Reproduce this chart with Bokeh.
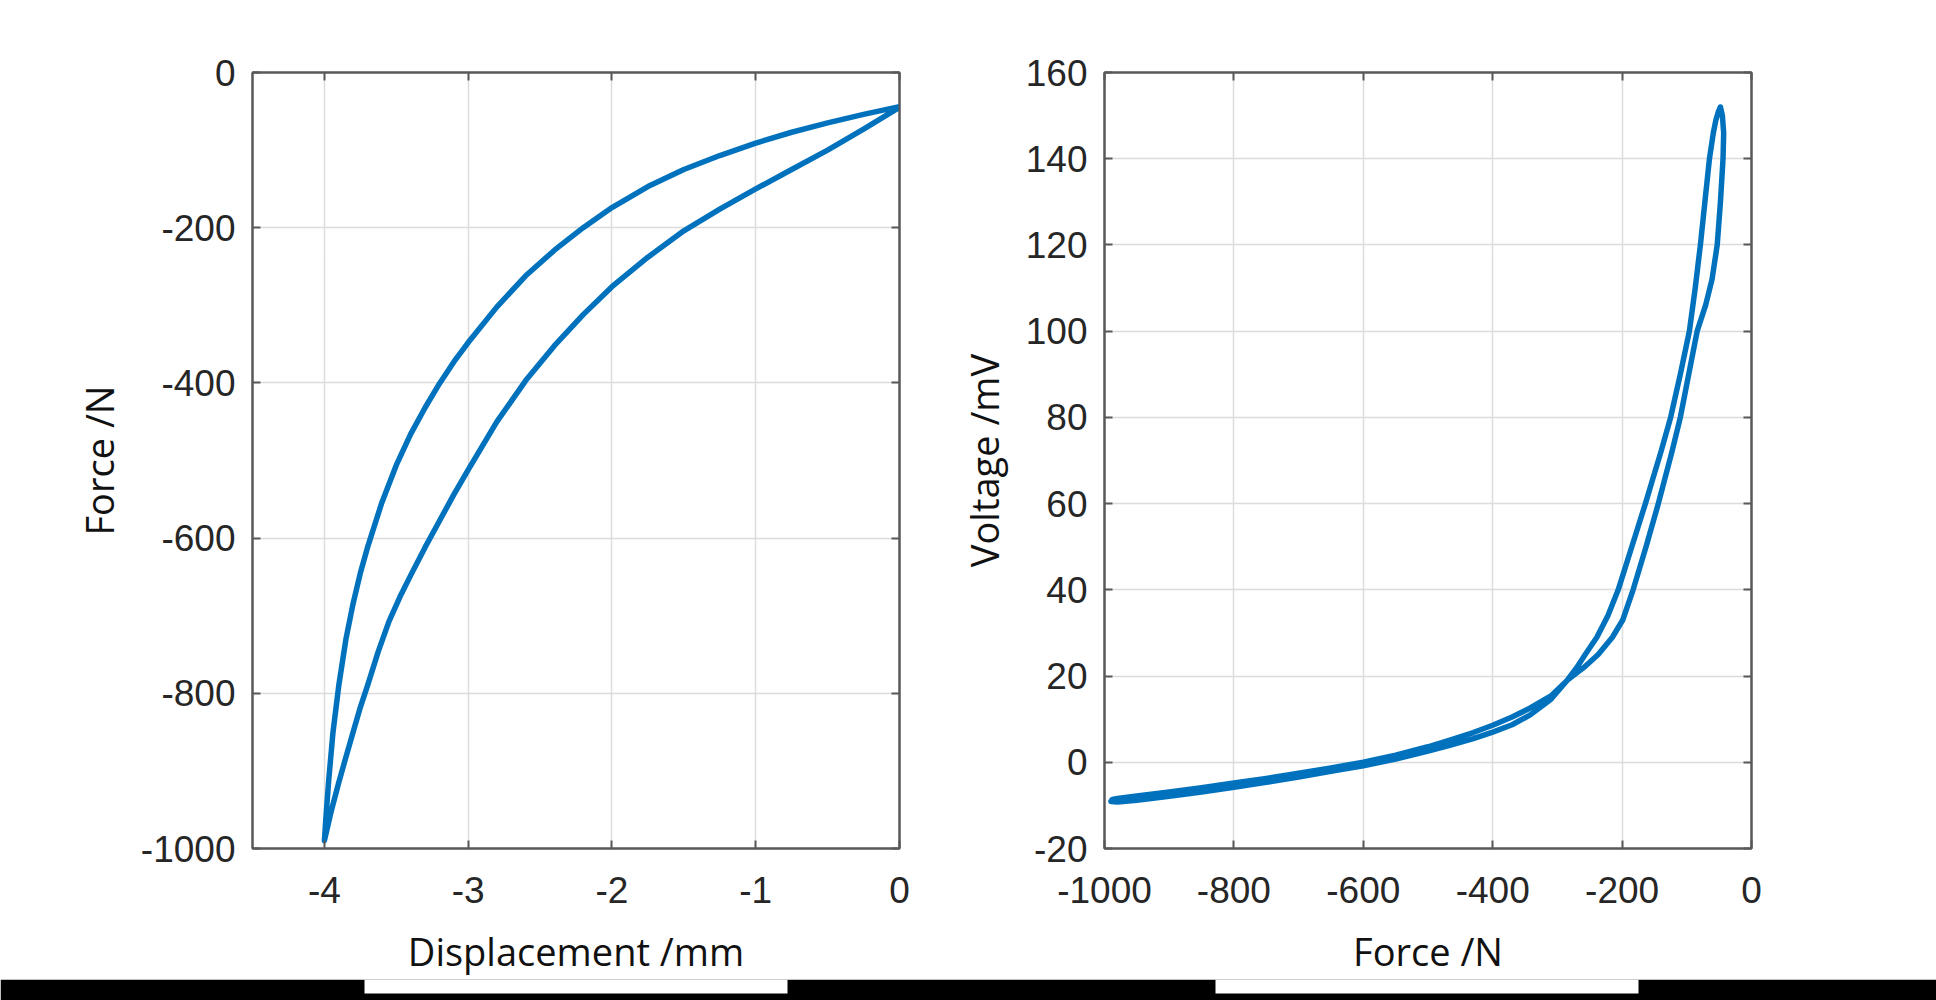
from bokeh.plotting import figure
from bokeh.models import Range1d, FixedTicker, LinearAxis
from bokeh.layouts import column, row
from bokeh.embed import file_html
from bokeh.resources import INLINE

# ---------------- data: left panel (force vs displacement loop) ----------------
disp_loading = [0, -0.25, -0.5, -0.75, -1.0, -1.25, -1.5, -1.75, -2.0, -2.2, -2.4, -2.6,
                -2.8, -3.0, -3.1, -3.2, -3.3, -3.4, -3.5, -3.6, -3.7, -3.75, -3.8, -3.85,
                -3.9, -3.94, -3.97, -3.99, -4.0]
force_loading = [-44, -54, -65, -77, -91, -107, -125, -147, -174, -200, -229, -262,
                 -302, -348, -373, -401, -432, -466, -506, -554, -612, -645, -684, -730,
                 -790, -850, -912, -962, -990]
disp_unloading = [-4.0, -3.95, -3.9, -3.85, -3.8, -3.75, -3.7, -3.625, -3.55, -3.475,
                  -3.4, -3.3, -3.2, -3.1, -3.0, -2.8, -2.6, -2.4, -2.2, -2.0, -1.75, -1.5,
                  -1.25, -1.0, -0.75, -0.5, -0.25, 0]
force_unloading = [-990, -950, -915, -882, -850, -818, -790, -746, -707, -676,
                   -648, -612, -578, -544, -512, -450, -397, -352, -312, -276, -238, -204,
                   -176, -150, -125, -100, -73, -45]

# ---------------- data: right panel (voltage vs force loop) ----------------
force_branch_a = [-48, -51, -55, -59, -62, -65, -72, -79, -87, -96, -110, -125, -140,
                  -154, -164, -185, -206, -222, -239, -257, -270, -285, -310, -342, -370,
                  -400, -430, -465, -500, -550, -600, -650, -700, -750, -800, -850, -900,
                  -950, -980, -990]
volt_branch_a = [152, 151, 149, 146, 143, 140, 130, 120, 110, 100, 90, 80, 72,
                 65, 60, 50, 40, 34, 29, 25, 22, 19, 14.6, 11.0, 8.7,
                 7.0, 5.5, 4.0, 2.6, 0.75, -0.8, -2.1, -3.45, -4.65, -5.8, -6.9, -7.9,
                 -8.8, -9.2, -9.1]
force_branch_b = [-988, -980, -950, -900, -850, -800, -750, -700, -650, -600, -550, -500,
                  -465, -430, -400, -370, -342, -310, -285, -259, -237, -215, -199, -183,
                  -163, -144, -123, -110, -97, -84, -71, -61, -53, -48, -44, -43, -45, -48]
volt_branch_b = [-8.6, -8.4, -7.8, -6.9, -5.9, -4.8, -3.75, -2.55, -1.3, 0.0, 1.65, 3.6,
                 5.2, 6.9, 8.6, 10.5, 12.6, 15.4, 19, 22, 25, 29, 33, 40,
                 50, 60, 72, 80, 90, 100, 106, 112, 120, 130, 140, 146, 150, 152]

# ---------------- ticks ----------------
disp_ticks = [-4, -3, -2, -1, 0]
disp_tick_labels = ["-4", "-3", "-2", "-1", "0"]
force_ticks_left = [-1000, -800, -600, -400, -200, 0]
force_tick_labels_left = ["-1000", "-800", "-600", "-400", "-200", "0"]
force_ticks_right = [-1000, -800, -600, -400, -200, 0]
force_tick_labels_right = ["-1000", "-800", "-600", "-400", "-200", "0"]
volt_ticks = [-20, 0, 20, 40, 60, 80, 100, 120, 140, 160]
volt_tick_labels = ["-20", "0", "20", "40", "60", "80", "100", "120", "140", "160"]

LINE = "#0072BD"
AX = "#595959"
TICK_TXT = "#262626"
LBL_TXT = "#111111"
GRID = "#dcdcdc"
TICK_FONT = "Liberation Sans"
LBL_FONT = "Open Sans"


def style_axis(ax, ticker, labels_map, show_labels):
    ax.ticker = ticker
    ax.axis_line_color = AX
    ax.axis_line_width = 2
    ax.major_tick_line_color = AX
    ax.major_tick_line_width = 2
    ax.major_tick_in = 8
    ax.major_tick_out = 0
    ax.minor_tick_line_color = None
    if show_labels:
        ax.major_label_overrides = labels_map
        ax.major_label_text_font = TICK_FONT
        ax.major_label_text_font_size = "37px"
        ax.major_label_text_color = TICK_TXT
    else:
        # mirror axis (box ticks only): no labels drawn at all
        ax.major_label_text_color = None
        ax.major_label_text_alpha = 0
        ax.major_label_text_font_size = "0px"
        ax.major_label_standoff = 0
        ax.axis_label_standoff = 0


def make_panel(xr, yr, xt, xl, yt, yl, xlabel, ylabel, border_left, border_right,
               ylab_standoff):
    p = figure(x_range=Range1d(*xr), y_range=Range1d(*yr), frame_width=647,
               frame_height=776, min_border_left=border_left, min_border_right=border_right,
               min_border_top=72, min_border_bottom=120, output_backend="svg",
               toolbar_location=None)
    p.background_fill_color = "white"
    p.border_fill_color = "white"
    p.outline_line_color = AX
    p.outline_line_width = 2
    xtick = FixedTicker(ticks=xt)
    ytick = FixedTicker(ticks=yt)
    xmap = {t: l for t, l in zip(xt, xl)}
    ymap = {t: l for t, l in zip(yt, yl)}
    xa = p.xaxis[0]
    ya = p.yaxis[0]
    style_axis(xa, xtick, xmap, True)
    style_axis(ya, ytick, ymap, True)
    xa.major_label_standoff = 28
    ya.major_label_standoff = 17
    xa.axis_label = xlabel
    ya.axis_label = ylabel
    for ax in (xa, ya):
        ax.axis_label_text_font = LBL_FONT
        ax.axis_label_text_font_size = "38px"
        ax.axis_label_text_font_style = "normal"
        ax.axis_label_text_color = LBL_TXT
    xa.axis_label_standoff = 19
    ya.axis_label_standoff = ylab_standoff
    top = LinearAxis()
    right = LinearAxis()
    style_axis(top, xtick, xmap, False)
    style_axis(right, ytick, ymap, False)
    p.add_layout(top, "above")
    p.add_layout(right, "right")
    p.xgrid.ticker = xtick
    p.ygrid.ticker = ytick
    p.grid.grid_line_color = GRID
    p.grid.grid_line_width = 1.5
    return p


p1 = make_panel((-4.5, 0), (-1000, 0), disp_ticks, disp_tick_labels,
                force_ticks_left, force_tick_labels_left,
                "Displacement /mm", "Force /N", 252, 47, 13)
p1.line(disp_loading + disp_unloading, force_loading + force_unloading,
        line_color=LINE, line_width=5.5, line_join="round", line_cap="round")

p2 = make_panel((-1000, 0), (-20, 160), force_ticks_right, force_tick_labels_right,
                volt_ticks, volt_tick_labels,
                "Force /N", "Voltage /mV", 158, 185, 13)
p2.line(force_branch_a + force_branch_b, volt_branch_a + volt_branch_b,
        line_color=LINE, line_width=5.5, line_join="round", line_cap="round")

# ---------------- black strip with white gaps at the bottom of the page ----------------
strip = figure(x_range=Range1d(0, 1936), y_range=Range1d(1000, 968), frame_width=1936,
               frame_height=32, min_border=0, x_axis_type=None, y_axis_type=None,
               output_backend="svg", toolbar_location=None)
strip.outline_line_color = None
strip.grid.visible = False
strip.background_fill_color = "white"
strip.border_fill_color = "white"
strip.quad(left=[0], right=[1936], top=[968], bottom=[1000], fill_color="black",
           line_color=None)
strip.quad(left=[364, 1215], right=[787, 1638], top=[968, 968], bottom=[982, 982],
           fill_color="white", line_color=None)

layout = column(row(p1, p2), strip)
open("out.html", "w").write(file_html(layout, INLINE))
